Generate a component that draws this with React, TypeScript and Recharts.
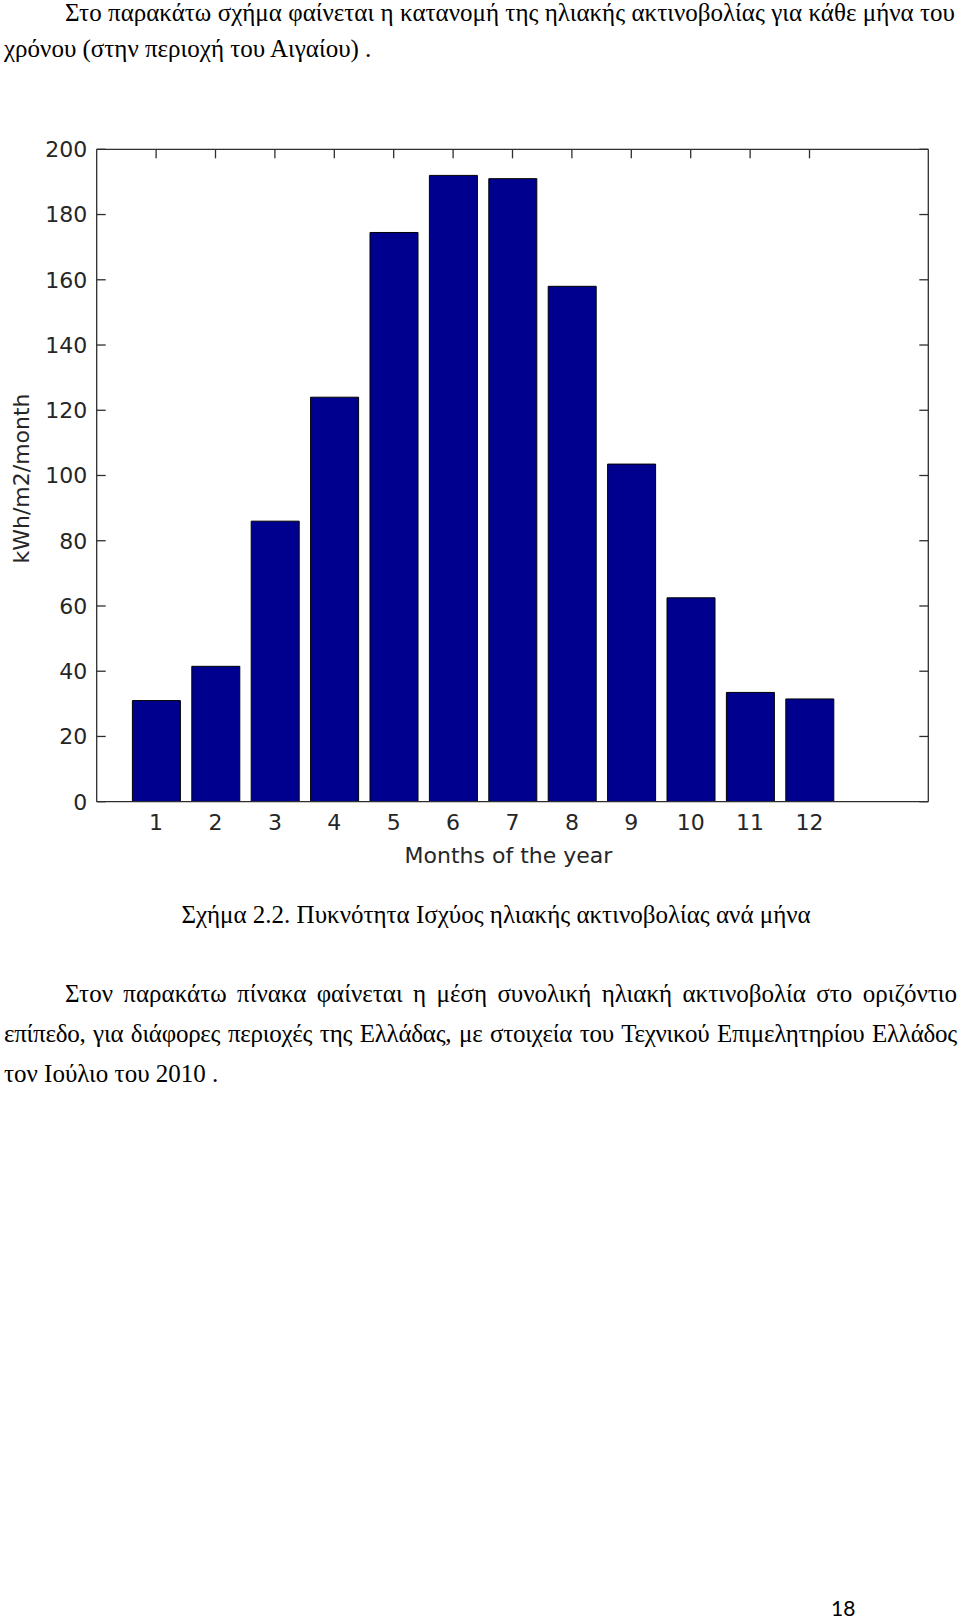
import React from "react";
import { BarChart, Bar, XAxis, YAxis, Label } from "recharts";

// monthly solar radiation, Aegean region (kWh/m2/month)
const months = [1, 2, 3, 4, 5, 6, 7, 8, 9, 10, 11, 12];
const radiation = [31, 41.5, 86, 124, 174.5, 192, 191, 158, 103.5, 62.5, 33.5, 31.5];
const yTicks = [0, 20, 40, 60, 80, 100, 120, 140, 160, 180, 200];
const xDomain = [0, 14];
const yDomain = [0, 200];

const xTitle = "Months of the year";
const yTitle = "kWh/m2/month";

const introLines = [
  "Στο παρακάτω σχήμα φαίνεται η κατανομή της ηλιακής ακτινοβολίας για κάθε μήνα του",
  "χρόνου (στην περιοχή του Αιγαίου) .",
];
const caption = "Σχήμα 2.2. Πυκνότητα Ισχύος ηλιακής ακτινοβολίας ανά μήνα";
const paraLines = [
  "Στον παρακάτω πίνακα φαίνεται η μέση συνολική ηλιακή ακτινοβολία στο οριζόντιο",
  "επίπεδο, για διάφορες περιοχές της Ελλάδας, με στοιχεία του Τεχνικού Επιμελητηρίου Ελλάδος",
  "τον Ιούλιο του 2010 .",
];
const pageNumber = "18";

const data = months.map((m, i) => ({ month: m, value: radiation[i] }));

const axisColor = "#2e2e2e";
const chartFont = "DejaVu Sans";
const tickStyle = { fill: "#262626", fontSize: 22, fontFamily: chartFont };
const noLabel = () => "";

const serif = "'Liberation Serif', 'Times New Roman', serif";
const FS = 25;

// place a line of text by its baseline
function Line({ text, baseline, left, width, justify, center, tight }: any) {
  const align = center ? "center" : justify ? "justify" : "left";
  return (
    <div
      style={{
        position: "absolute",
        left,
        width,
        top: baseline - FS * 0.8375,
        fontFamily: serif,
        fontSize: FS,
        lineHeight: `${FS}px`,
        letterSpacing: tight ? -0.25 : 0,
        color: "#000",
        whiteSpace: "nowrap",
        textAlign: align,
        textAlignLast: align,
      }}
    >
      {text}
    </div>
  );
}

function YTitle({ viewBox }: any) {
  const cx = viewBox.x + 21;
  const cy = viewBox.y + viewBox.height / 2 + 3;
  return (
    <text
      x={cx}
      y={cy}
      transform={`rotate(-90 ${cx} ${cy})`}
      textAnchor="middle"
      dominantBaseline="central"
      fill="#262626"
      fontSize={22}
      fontFamily={chartFont}
    >
      {yTitle}
    </text>
  );
}

function XTitle({ viewBox }: any) {
  return (
    <text
      x={viewBox.x + viewBox.width / 2 - 4}
      y={viewBox.y + 61}
      textAnchor="middle"
      fill="#262626"
      fontSize={22}
      fontFamily={chartFont}
    >
      {xTitle}
    </text>
  );
}

export default function App() {
  return (
    <div
      style={{
        position: "absolute",
        left: 0,
        top: 0,
        width: 960,
        height: 1622,
        background: "#fff",
        overflow: "hidden",
      }}
    >
      <Line text={introLines[0]} baseline={21} left={65} width={890} justify />
      <Line text={introLines[1]} baseline={57} left={4} width={800} />

      <div style={{ position: "absolute", left: 0, top: 100 }}>
        <BarChart
          width={960}
          height={800}
          data={data}
          margin={{ top: 49.3, right: 31.7, bottom: 38.3, left: 0 }}
        >
          <XAxis
            xAxisId="bottom"
            type="number"
            dataKey="month"
            domain={xDomain}
            ticks={months}
            allowDataOverflow
            height={60}
            tickSize={0}
            tickMargin={13}
            tickLine={false}
            tick={tickStyle}
            stroke={axisColor}
            strokeWidth={1.3}
          >
            <Label content={XTitle} />
          </XAxis>
          {/* box top edge with inward ticks */}
          <XAxis
            xAxisId="top"
            orientation="top"
            mirror
            type="number"
            dataKey="month"
            domain={xDomain}
            ticks={months}
            allowDataOverflow
            height={1}
            tickSize={9}
            tickFormatter={noLabel}
            stroke={axisColor}
            strokeWidth={1.3}
          />
          <YAxis
            yAxisId="left"
            type="number"
            domain={yDomain}
            ticks={yTicks}
            allowDataOverflow
            width={96.7}
            tickSize={0}
            tickMargin={9.4}
            tickLine={false}
            tick={tickStyle}
            stroke={axisColor}
            strokeWidth={1.3}
          >
            <Label content={YTitle} />
          </YAxis>
          {/* inward ticks on the left edge */}
          <YAxis
            yAxisId="leftTicks"
            orientation="left"
            mirror
            type="number"
            domain={yDomain}
            ticks={yTicks}
            allowDataOverflow
            width={1}
            tickSize={9}
            axisLine={false}
            tickFormatter={noLabel}
            stroke={axisColor}
            strokeWidth={1.3}
          />
          {/* box right edge with inward ticks */}
          <YAxis
            yAxisId="right"
            orientation="right"
            mirror
            type="number"
            domain={yDomain}
            ticks={yTicks}
            allowDataOverflow
            width={1}
            tickSize={9}
            tickFormatter={noLabel}
            stroke={axisColor}
            strokeWidth={1.3}
          />
          <Bar
            xAxisId="bottom"
            yAxisId="left"
            dataKey="value"
            barSize={48}
            fill="#00008e"
            stroke="#000"
            strokeWidth={1}
            isAnimationActive={false}
          />
        </BarChart>
      </div>

      <Line text={caption} baseline={923} left={146} width={700} center />

      <Line text={paraLines[0]} baseline={1002} left={65} width={892} justify />
      <Line text={paraLines[1]} baseline={1042} left={4} width={953} justify tight />
      <Line text={paraLines[2]} baseline={1082} left={4} width={400} />

      <div
        style={{
          position: "absolute",
          left: 831,
          top: 1616 - 16.1,
          fontFamily: "Lato, 'Open Sans', sans-serif",
          fontSize: 21,
          lineHeight: "16px",
          color: "#000",
        }}
      >
        {pageNumber}
      </div>
    </div>
  );
}
